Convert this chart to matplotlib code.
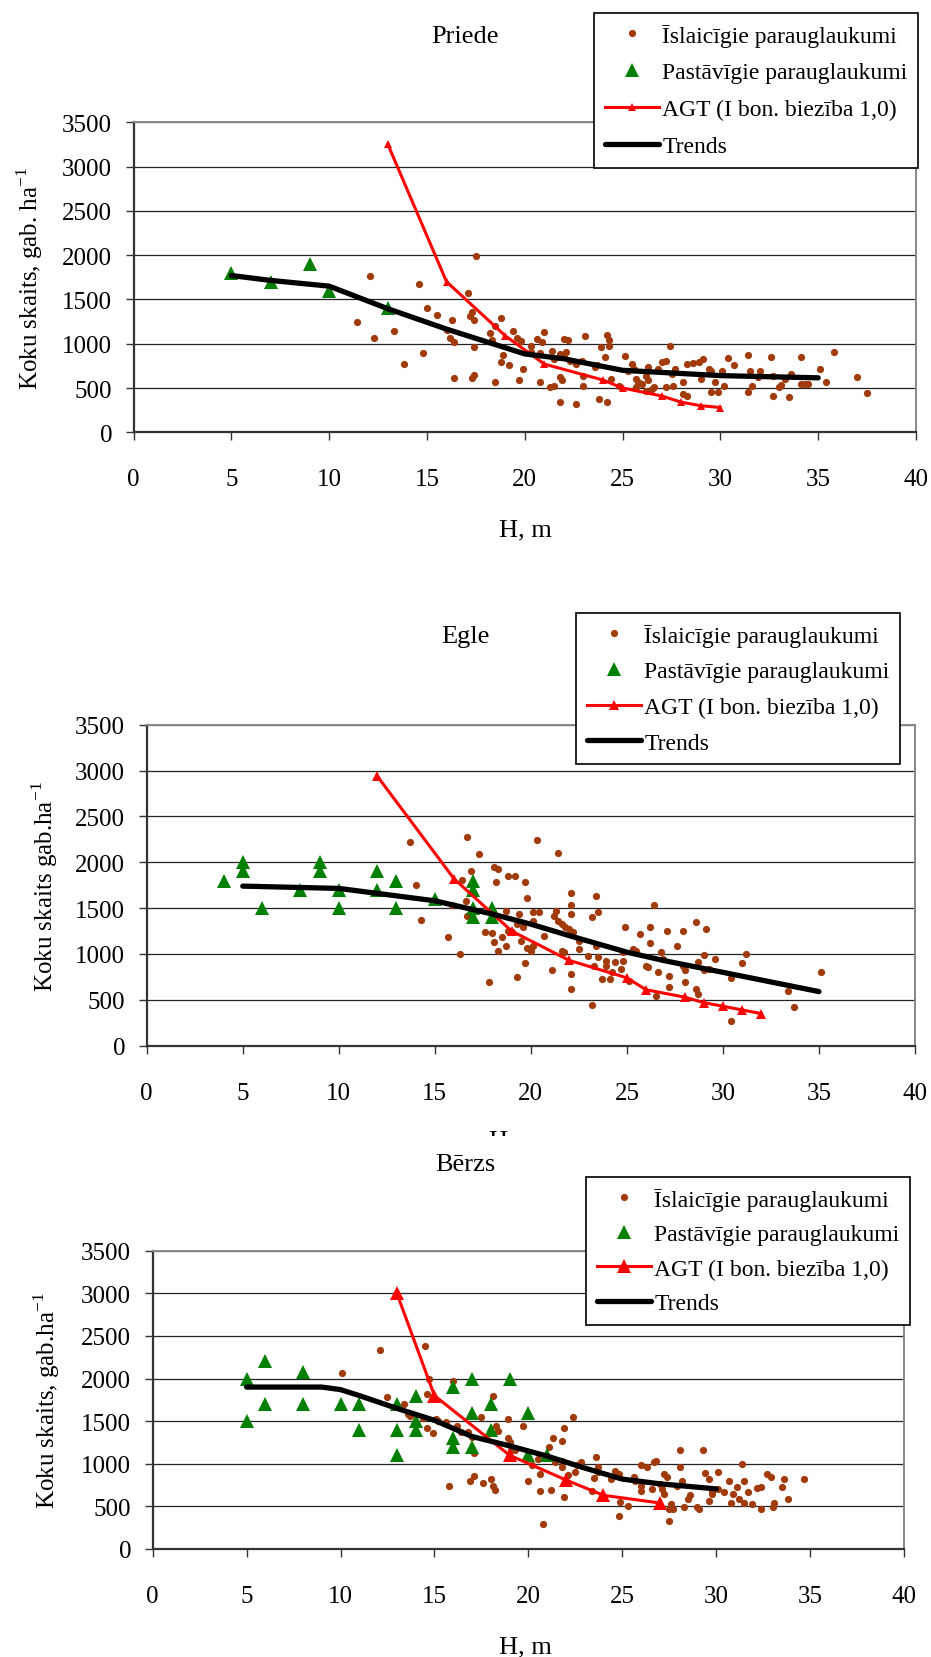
import matplotlib
matplotlib.use('Agg')
import matplotlib.pyplot as plt
from matplotlib.patches import Rectangle

plt.rcParams['font.family'] = ['Liberation Serif', 'DejaVu Serif']
plt.rcParams['mathtext.fontset'] = 'custom'
plt.rcParams['mathtext.rm'] = 'Liberation Serif'

# ---------------- data ----------------
labels = ['Īslaicīgie parauglaukumi', 'Pastāvīgie parauglaukumi',
          'AGT (I bon. biezība 1,0)', 'Trends']
x_ticks = [0, 5, 10, 15, 20, 25, 30, 35, 40]
y_ticks = [0, 500, 1000, 1500, 2000, 2500, 3000, 3500]

# Priede
priede_isl_x = [12.1, 11.4, 12.3, 13.3, 13.8, 14.6, 15.0, 14.8, 15.5, 16.0, 16.2, 16.3, 16.4, 16.4,
                17.1, 17.2, 17.4, 17.3, 17.5, 17.4, 17.3, 17.4, 18.5, 18.8, 18.2, 18.3, 18.9, 18.8,
                19.2, 19.4, 19.6, 19.8, 19.9, 19.7, 18.5, 20.3, 20.3, 20.6, 20.8, 20.9, 21.0, 20.8,
                21.4, 21.5, 21.8, 22.0, 22.2, 22.1, 22.0, 22.3, 21.8, 21.9, 21.3, 21.5, 21.8, 22.6,
                22.6, 22.9, 23.0, 23.1, 23.0, 23.7, 23.6, 23.9, 24.2, 24.3, 24.1, 24.3, 24.4, 23.8,
                24.2, 24.8, 25.1, 25.3, 25.5, 25.6, 25.7, 25.8, 25.7, 26.0, 26.2, 26.3, 26.3, 26.2,
                26.5, 26.6, 26.8, 27.0, 27.2, 27.4, 27.5, 27.6, 27.7, 27.2, 28.1, 28.1, 28.3, 28.3,
                28.6, 28.9, 29.1, 29.0, 29.4, 29.5, 29.5, 29.7, 29.9, 30.1, 30.2, 30.4, 30.7, 31.4,
                31.4, 31.6, 31.5, 32.0, 31.9, 32.6, 32.7, 32.7, 33.0, 33.1, 33.3, 33.5, 33.6, 34.1,
                34.1, 34.3, 34.5, 35.1, 35.4, 35.8, 37.0, 37.5]
priede_isl_y = [1760, 1240, 1060, 1140, 770, 1675, 1400, 895, 1330, 1155, 1065, 1270, 1015, 610,
                1575, 1310, 1270, 1355, 1985, 960, 610, 645, 1205, 1285, 1120, 1045, 875, 790,
                765, 1140, 1060, 1035, 715, 585, 565, 980, 905, 1055, 895, 1015, 1130, 565,
                920, 830, 885, 1055, 1040, 905, 845, 810, 620, 585, 510, 525, 340, 320,
                770, 810, 640, 1090, 525, 755, 735, 960, 1100, 1045, 845, 980, 600, 375,
                340, 525, 865, 695, 770, 715, 600, 565, 510, 545, 640, 735, 585, 470,
                490, 510, 715, 790, 810, 980, 660, 520, 715, 510, 565, 435, 415, 770,
                780, 790, 830, 600, 715, 695, 450, 565, 450, 695, 525, 835, 755, 875,
                460, 525, 695, 695, 620, 845, 640, 415, 510, 530, 600, 395, 660, 845,
                545, 545, 545, 710, 565, 910, 630, 440]
priede_pas_x = [5, 7, 9, 10, 13]
priede_pas_y = [1800, 1700, 1900, 1600, 1400]
priede_agt_x = [13, 16, 19, 21, 24, 25, 27, 28, 29, 30]
priede_agt_y = [3250, 1700, 1090, 770, 590, 500, 410, 340, 300, 280]
priede_trend_x = [5, 7, 10, 13, 16, 20, 22, 25, 30, 35]
priede_trend_y = [1770, 1715, 1650, 1395, 1165, 885, 830, 700, 640, 615]

# Egle
egle_isl_x = [13.7, 14.0, 14.3, 15.7, 15.9, 16.3, 16.4, 16.6, 16.7, 16.9, 16.7, 17.3, 17.6, 17.8,
              18.0, 18.1, 18.1, 18.2, 18.3, 18.3, 18.5, 18.7, 18.8, 18.7, 18.8, 19.0, 19.2, 19.3,
              19.3, 19.4, 19.5, 19.6, 19.7, 19.7, 19.8, 19.8, 20.0, 20.1, 20.1, 20.1, 20.3, 20.4,
              20.7, 21.1, 21.2, 21.3, 21.4, 21.4, 21.6, 21.7, 21.6, 21.8, 22.0, 22.1, 22.1, 22.1,
              22.2, 22.1, 22.1, 22.5, 22.5, 23.0, 23.2, 23.2, 23.4, 23.5, 23.4, 23.3, 23.5, 23.7,
              23.9, 23.9, 24.1, 24.2, 24.4, 24.7, 24.8, 24.8, 24.9, 25.1, 25.3, 25.5, 25.7, 26.0,
              26.1, 26.2, 26.2, 26.4, 26.5, 26.6, 26.8, 26.9, 27.1, 27.2, 27.2, 27.6, 27.9, 27.9,
              28.0, 28.0, 28.6, 28.6, 28.7, 28.7, 29.0, 29.0, 29.1, 29.3, 29.6, 30.4, 30.4, 31.0,
              31.2, 33.4, 33.7, 35.1]
egle_isl_y = [2225, 1750, 1375, 1190, 1535, 995, 1810, 1580, 2280, 1910, 1415, 2090, 1235, 700,
              1225, 1135, 1950, 1790, 1925, 1035, 1180, 1470, 1855, 1090, 1255, 1235, 1855, 1325,
              745, 1435, 1145, 1290, 900, 1780, 1610, 1070, 1035, 1090, 1455, 1365, 2245, 1460,
              1200, 820, 1415, 1465, 2100, 1365, 1035, 1020, 1325, 1290, 1270, 1535, 1670, 1435,
              1235, 780, 620, 1145, 1055, 980, 1400, 445, 1635, 1455, 1090, 870, 965, 725,
              925, 865, 725, 800, 910, 835, 925, 1020, 1290, 710, 1055, 1035, 1220, 870,
              855, 1125, 1290, 1535, 545, 800, 1020, 945, 1255, 765, 645, 1090, 1255, 870,
              690, 830, 1345, 620, 565, 910, 990, 820, 1270, 835, 940, 740, 265, 900,
              1000, 600, 420, 800]
egle_pas_x = [4, 5, 5, 6, 8, 9, 9, 10, 10, 12, 12, 13, 13, 15, 17, 17, 17, 17, 18, 18]
egle_pas_y = [1800, 2000, 1900, 1500, 1700, 2000, 1900, 1700, 1500, 1900, 1700, 1800, 1500, 1600,
              1800, 1700, 1500, 1400, 1500, 1400]
egle_agt_x = [12, 16, 19, 22, 25, 26, 28, 29, 30, 31, 32]
egle_agt_y = [2940, 1820, 1250, 930, 740, 610, 530, 470, 430, 390, 350]
egle_trend_x = [5, 10, 15, 18, 20, 22, 25, 27, 30, 35]
egle_trend_y = [1740, 1715, 1580, 1435, 1325, 1200, 1020, 925, 800, 590]

# Bērzs
berzs_isl_x = [12.1, 12.5, 10.1, 13.4, 13.6, 13.7, 14.5, 14.7, 14.6, 14.4, 14.6, 14.9, 15.1, 15.2,
               15.6, 15.8, 16.0, 16.2, 16.4, 16.8, 16.9, 17.0, 17.1, 17.1, 17.5, 17.6, 18.0, 18.1,
               18.1, 18.2, 18.3, 18.4, 18.9, 18.9, 19.0, 19.1, 19.3, 19.7, 20.0, 20.2, 20.5, 20.6,
               20.6, 20.8, 21.1, 21.2, 21.3, 21.4, 21.8, 21.8, 21.8, 21.9, 21.9, 22.1, 22.4, 22.5,
               22.6, 22.8, 23.5, 23.6, 23.7, 23.4, 23.7, 24.4, 24.6, 24.8, 24.8, 24.9, 25.3, 25.6,
               25.7, 26.0, 26.0, 26.0, 26.3, 26.6, 26.7, 26.8, 27.0, 27.1, 27.2, 27.2, 27.4, 27.5,
               27.5, 27.6, 27.7, 27.9, 28.1, 28.1, 28.2, 28.3, 28.5, 28.6, 29.0, 29.1, 29.3, 29.4,
               29.6, 29.6, 29.8, 29.8, 30.1, 30.1, 30.4, 30.7, 30.8, 30.9, 31.1, 31.2, 31.4, 31.5,
               31.5, 31.7, 31.9, 32.2, 32.4, 32.4, 32.7, 32.9, 33.0, 33.1, 33.5, 33.6, 33.8, 34.7]
berzs_isl_y = [2340, 1780, 2060, 1700, 1585, 1555, 2380, 1995, 1820, 1535, 1425, 1360, 1525, 1505,
               1485, 745, 1975, 1445, 1370, 1370, 800, 1310, 860, 1125, 1545, 780, 820, 1800,
               745, 695, 1440, 1390, 1525, 1300, 1250, 1165, 1165, 1445, 800, 980, 1055, 880,
               675, 295, 1195, 695, 1300, 1015, 1270, 960, 1035, 1415, 605, 870, 1545, 900,
               980, 1015, 830, 1085, 960, 685, 900, 820, 920, 880, 390, 555, 510, 840,
               800, 980, 745, 685, 960, 705, 1015, 1035, 765, 705, 880, 645, 840, 330,
               470, 530, 470, 745, 960, 1165, 800, 490, 585, 635, 490, 470, 1165, 890,
               565, 820, 685, 645, 905, 705, 665, 800, 545, 645, 725, 585, 995, 800,
               545, 665, 530, 710, 725, 470, 880, 840, 490, 545, 725, 820, 585, 820]
berzs_pas_x = [5, 5, 6, 6, 8, 8, 10, 11, 11, 13, 13, 13, 14, 14, 14, 16, 16, 16, 17, 17, 17,
               18, 18, 19, 20, 20, 21]
berzs_pas_y = [2000, 1500, 2200, 1700, 2080, 1700, 1700, 1700, 1400, 1700, 1400, 1100, 1800, 1500,
               1400, 1900, 1300, 1200, 2000, 1600, 1200, 1700, 1400, 2000, 1600, 1100, 1100]
berzs_agt_x = [13, 15, 19, 22, 24, 27]
berzs_agt_y = [3000, 1800, 1100, 810, 630, 540]
berzs_trend_x = [5, 9, 10, 11, 13, 15, 17, 19, 21, 23, 25, 27, 30]
berzs_trend_y = [1900, 1900, 1870, 1800, 1650, 1510, 1320, 1210, 1090, 950, 820, 765, 705]

# ---------------- figure ----------------
W, H = 931, 1658
fig = plt.figure(figsize=(W / 100, H / 100), dpi=100)

BROWN = '#A23B0C'
GREEN = '#008000'


def fx(px):
    return px / W


def fy(px):
    return 1 - px / H


# pixel positions of each chart: plot box (left, right, top, bottom), title y, ylabel x,
# xlabel centre, legend top-left corner
panels = [
    dict(box=(133.6, 916, 123.3, 433.3), title='Priede', title_y=45,
         ylabel='Koku skaits, gab. ha$^{\\mathregular{-1}}$', ylab_x=30,
         isl=(priede_isl_x, priede_isl_y), pas=(priede_pas_x, priede_pas_y),
         agt=(priede_agt_x, priede_agt_y), trend=(priede_trend_x, priede_trend_y),
         agt_ms=6, leg=(594, 14), spacing=0.65, xlab=(525, 530)),
    dict(box=(146.7, 915, 725.7, 1046.7), title='Egle', title_y=645.7,
         ylabel='Koku skaits gab.ha$^{\\mathregular{-1}}$', ylab_x=44.5,
         isl=(egle_isl_x, egle_isl_y), pas=(egle_pas_x, egle_pas_y),
         agt=(egle_agt_x, egle_agt_y), trend=(egle_trend_x, egle_trend_y),
         agt_ms=7, leg=(576, 614), spacing=0.6, xlab=(515, 1141)),
    dict(box=(152.7, 904, 1251.7, 1550), title='Bērzs', title_y=1173,
         ylabel='Koku skaits, gab.ha$^{\\mathregular{-1}}$', ylab_x=47,
         isl=(berzs_isl_x, berzs_isl_y), pas=(berzs_pas_x, berzs_pas_y),
         agt=(berzs_agt_x, berzs_agt_y), trend=(berzs_trend_x, berzs_trend_y),
         agt_ms=10, leg=(586, 1178), spacing=0.55, xlab=(525, 1647)),
]

axes = []
for p in panels:
    l, r, t, b = p['box']
    w, h = r - l, b - t
    ax = fig.add_axes([fx(l), fy(b), w / W, h / H])
    axes.append(ax)

    ax.plot(*p['isl'], linestyle='none', marker='o', ms=5.2, color=BROWN, mew=0, label=labels[0])
    ax.plot(*p['pas'], linestyle='none', marker='^', ms=9.5, color=GREEN, mew=0, label=labels[1])
    ax.plot(*p['agt'], color='red', lw=2.2, marker='^', ms=p['agt_ms'], mew=0, label=labels[2])
    ax.plot(*p['trend'], color='black', lw=3.8, solid_capstyle='round', label=labels[3])

    ax.set_xlim(0, 40)
    ax.set_ylim(0, 3500)
    ax.set_xticks(x_ticks)
    ax.set_yticks(y_ticks)
    ax.tick_params(axis='both', labelsize=18, direction='out', length=6, width=1, color='#333333')
    ax.tick_params(axis='x', pad=20)
    ax.tick_params(axis='y', pad=9.5)
    ax.grid(axis='y', color='#222222', lw=0.9)
    ax.set_axisbelow(True)
    for s in ['left', 'bottom']:
        ax.spines[s].set_color('#333333')
        ax.spines[s].set_linewidth(1.6)
    for s in ['top', 'right']:
        ax.spines[s].set_color('#888888')
        ax.spines[s].set_linewidth(1.4)

    ax.set_title(p['title'], fontsize=19, va='center',
                 x=(465 - l) / w, y=(b - p['title_y']) / h)

    ax.set_ylabel(p['ylabel'], fontsize=18)
    ax.yaxis.set_label_coords((p['ylab_x'] - l) / w, 0.5)
    ax.yaxis.label.set_va('center')

    ax.set_xlabel('H, m', fontsize=19)
    ax.xaxis.set_label_coords((p['xlab'][0] - l) / w, (b - p['xlab'][1]) / h)
    ax.xaxis.label.set_va('center')

    leg = ax.legend(loc='upper left', bbox_to_anchor=(fx(p['leg'][0]), fy(p['leg'][1])),
                    bbox_transform=fig.transFigure, borderaxespad=0, fontsize=17,
                    frameon=True, fancybox=False, framealpha=1, edgecolor='black',
                    handlelength=2.3, handletextpad=0.15, labelspacing=p['spacing'],
                    borderpad=0.45)
    leg.get_frame().set_linewidth(1.2)

# white sheet of the third chart hides most of the second chart's axis title
axes[2].set_zorder(2)
fig.patches.append(Rectangle((0, 0), 1, fy(1137), transform=fig.transFigure,
                             facecolor='white', edgecolor='none', zorder=1))

fig.savefig('out.png', dpi=100)
